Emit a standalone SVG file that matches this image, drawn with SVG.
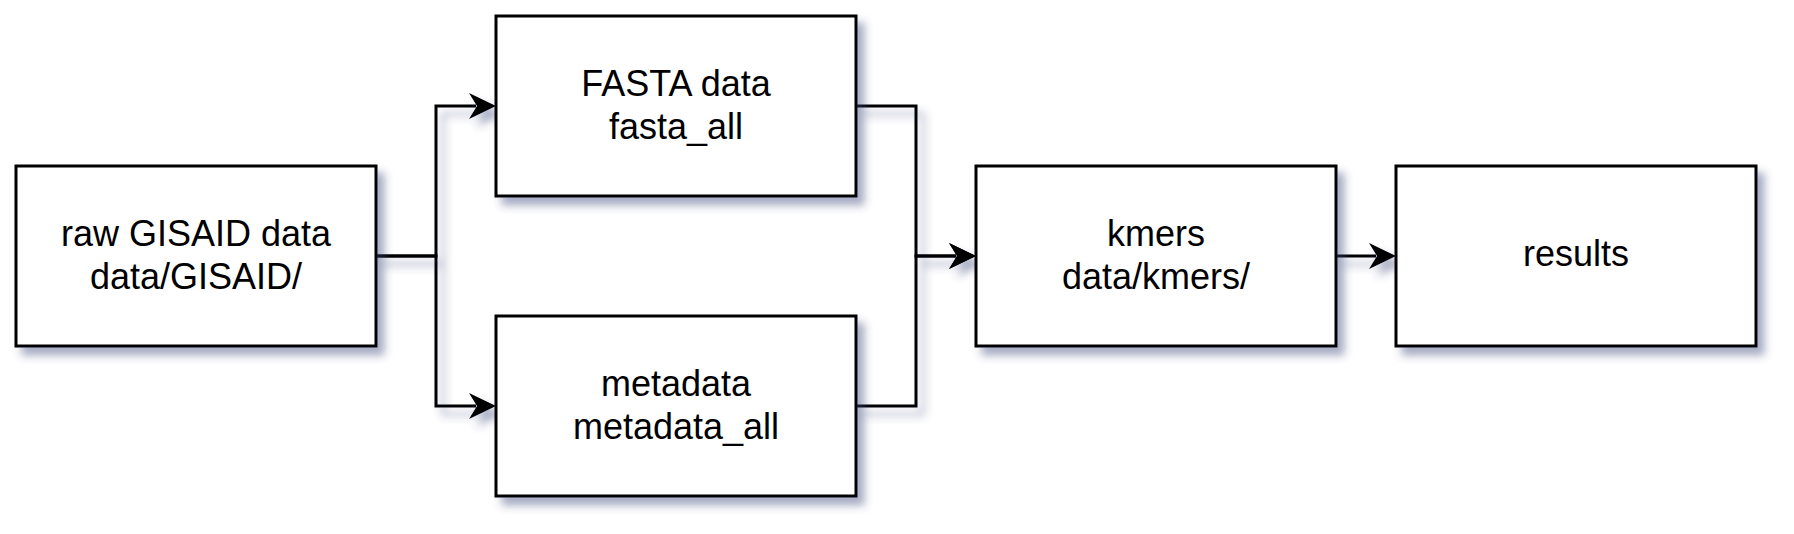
<svg xmlns="http://www.w3.org/2000/svg" width="1794" height="534" viewBox="0 0 1794 534">
<style>
.box{fill:#ffffff;stroke:#000000;stroke-width:3}
.lbl{font-family:"Liberation Sans",Arial,Helvetica,sans-serif;font-size:36px;fill:#000000;text-anchor:middle}
.edge{fill:none;stroke:#000000;stroke-width:3;marker-end:url(#arrow)}
</style>
<defs>
<filter id="shadow" x="-10%" y="-10%" width="130%" height="140%">
<feDropShadow dx="7" dy="8" stdDeviation="4" flood-color="#3c4478" flood-opacity="0.45"/>
</filter>
<marker id="arrow" markerUnits="userSpaceOnUse" markerWidth="30" markerHeight="28" refX="7" refY="13" orient="auto" overflow="visible">
<path d="M0,0 L27,13 L0,26 L8,13 Z" fill="#000000"/>
</marker>
</defs>
<rect width="1794" height="534" fill="#ffffff"/>
<g id="connectors" filter="url(#shadow)">
<path class="edge" d="M376,256 H436 V106 H476"/>
<path class="edge" d="M376,256 H436 V406 H476"/>
<path class="edge" d="M856,106 H916 V256 H956"/>
<path class="edge" d="M856,406 H916 V256 H956"/>
<path class="edge" d="M1336,256 H1376"/>
</g>
<g id="raw">
<rect class="box" x="16" y="166" width="360" height="180" filter="url(#shadow)"/>
<text class="lbl" x="196" y="246">raw GISAID data</text>
<text class="lbl" x="196" y="289">data/GISAID/</text>
</g>
<g id="fasta">
<rect class="box" x="496" y="16" width="360" height="180" filter="url(#shadow)"/>
<text class="lbl" x="676" y="96">FASTA data</text>
<text class="lbl" x="676" y="139">fasta_all</text>
</g>
<g id="metadata">
<rect class="box" x="496" y="316" width="360" height="180" filter="url(#shadow)"/>
<text class="lbl" x="676" y="396">metadata</text>
<text class="lbl" x="676" y="439">metadata_all</text>
</g>
<g id="kmers">
<rect class="box" x="976" y="166" width="360" height="180" filter="url(#shadow)"/>
<text class="lbl" x="1156" y="246">kmers</text>
<text class="lbl" x="1156" y="289">data/kmers/</text>
</g>
<g id="results">
<rect class="box" x="1396" y="166" width="360" height="180" filter="url(#shadow)"/>
<text class="lbl" x="1576" y="266">results</text>
</g>
</svg>
